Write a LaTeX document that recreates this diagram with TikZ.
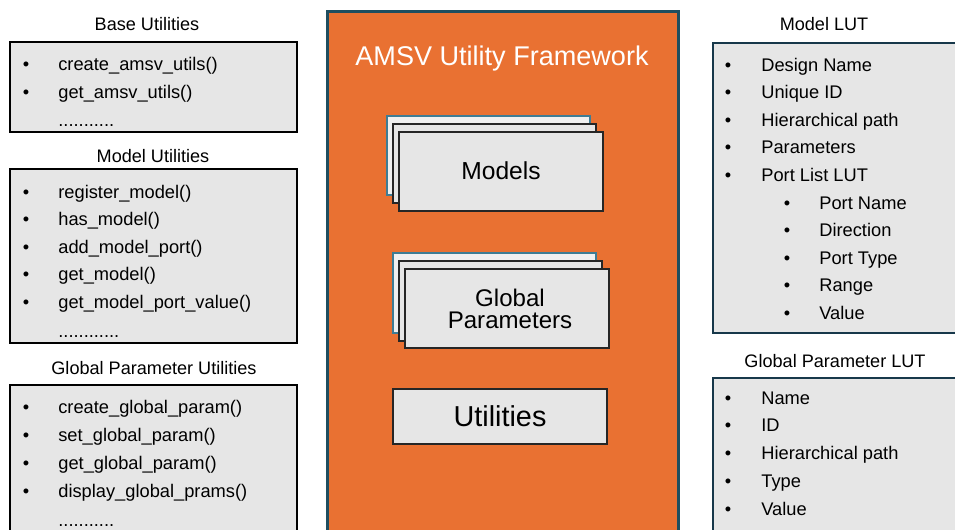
\documentclass[tikz,border=0pt]{standalone}
\usepackage{fontspec}
\setmainfont{Liberation Sans}

\definecolor{amsvorange}{HTML}{E97132}
\definecolor{framedark}{HTML}{1F4E5F}
\definecolor{lutdark}{HTML}{17384A}
\definecolor{boxgray}{HTML}{E6E6E6}
\definecolor{sheetedge}{HTML}{3E7C94}

\tikzset{
    listbox/.style={draw=black, line width=1.3pt, fill=boxgray},
    lutbox/.style={draw=lutdark, line width=1.6pt, fill=boxgray},
    sheet/.style={draw=black!85, line width=0.6pt, fill=boxgray},
    backsheet/.style={draw=sheetedge, line width=0.6pt, fill=boxgray!60!white},
    boxtitle/.style={anchor=base, inner sep=0pt, font=\fontsize{10.3}{12}\selectfont},
    item/.style={anchor=base west, inner sep=0pt, font=\fontsize{10.4}{12}\selectfont},
    bullet/.style={anchor=base, inner sep=0pt, font=\fontsize{10.4}{12}\selectfont},
}

\begin{document}
\begin{tikzpicture}[x=0.02cm, y=-0.02cm]
        \useasboundingbox (0,0) rectangle (955,529);
        \clip (0,0) rectangle (955,529);

        %! --- Left: utility lists ---
        % Base utilities
        \draw[listbox] (10,42) rectangle (297,132);
        \node[boxtitle] (base-title) at (147,30) {Base Utilities};
        \foreach \t [count=\i] in {{create\_amsv\_utils()},{get\_amsv\_utils()}} {
            \node[bullet] (base-b\i) at (26,42+28*\i) {\textbullet};
            \node[item] (base-\i) at (58,42+28*\i) {\t};
        }
        \node[item] (base-more) at (58,126) {...........};

        % Model utilities
        \draw[listbox] (10,169) rectangle (297,343);
        \node[boxtitle] (model-title) at (153,162) {Model Utilities};
        \foreach \t [count=\i] in {{register\_model()},{has\_model()},{add\_model\_port()},{get\_model()},{get\_model\_port\_value()}} {
            \node[bullet] (model-b\i) at (26,170.5+27.5*\i) {\textbullet};
            \node[item] (model-\i) at (58,170.5+27.5*\i) {\t};
        }
        \node[item] (model-more) at (58,337) {............};

        % Global parameter utilities
        \draw[listbox] (10,385) rectangle (297,545);
        \node[boxtitle] (gparam-title) at (154,374) {Global Parameter Utilities};
        \foreach \t [count=\i] in {{create\_global\_param()},{set\_global\_param()},{get\_global\_param()},{display\_global\_prams()}} {
            \node[bullet] (gparam-b\i) at (26,385+28*\i) {\textbullet};
            \node[item] (gparam-\i) at (58,385+28*\i) {\t};
        }
        \node[item] (gparam-more) at (58,526) {...........};

        %! --- Centre: framework ---
        \draw[fill=amsvorange, draw=framedark, line width=1.7pt] (327,11) rectangle (678,545);
        \node[anchor=base, text=white, font=\fontsize{15.4}{18}\selectfont] (fw-title) at (502,65) {AMSV Utility Framework};

        % Models stack
        \draw[backsheet] (387,116) rectangle (590,195);
        \draw[sheet] (393,124) rectangle (596,203);
        \draw[sheet] (399,132) rectangle (603,211);
        \node[font=\fontsize{14}{16}\selectfont] (models) at (501,171) {Models};

        % Global parameters stack
        \draw[backsheet] (393,253) rectangle (596,333);
        \draw[sheet] (399,261) rectangle (602,341);
        \draw[sheet] (405,269) rectangle (609,348);
        \node[anchor=base, inner sep=0pt, font=\fontsize{13.7}{12}\selectfont] (gparams-1) at (510,306) {Global};
        \node[anchor=base, inner sep=0pt, font=\fontsize{13.7}{12}\selectfont] (gparams-2) at (510,328) {Parameters};

        % Utilities
        \draw[sheet] (393,389) rectangle (607,444);
        \node[font=\fontsize{16.4}{18}\selectfont] (utils) at (500,416) {Utilities};

        %! --- Right: look-up tables ---
        % Model LUT
        \draw[lutbox] (713,43) rectangle (975,333);
        \node[boxtitle] (mlut-title) at (824,30) {Model LUT};
        \foreach \t [count=\i] in {Design Name,Unique ID,Hierarchical path,Parameters,Port List LUT} {
            \node[bullet] (mlut-b\i) at (728,43.4+27.6*\i) {\textbullet};
            \node[item] (mlut-\i) at (761,43.4+27.6*\i) {\t};
        }
        \foreach \t [count=\i] in {Port Name,Direction,Port Type,Range,Value} {
            \node[bullet] (port-b\i) at (787,181.4+27.6*\i) {\textbullet};
            \node[item] (port-\i) at (819,181.4+27.6*\i) {\t};
        }

        % Global parameter LUT
        \draw[lutbox] (713,378) rectangle (975,545);
        \node[boxtitle] (glut-title) at (835,367) {Global Parameter LUT};
        \foreach \t [count=\i] in {Name,ID,Hierarchical path,Type,Value} {
            \node[bullet] (glut-b\i) at (728,376.2+27.8*\i) {\textbullet};
            \node[item] (glut-\i) at (761,376.2+27.8*\i) {\t};
        }
    \end{tikzpicture}
\end{document}
